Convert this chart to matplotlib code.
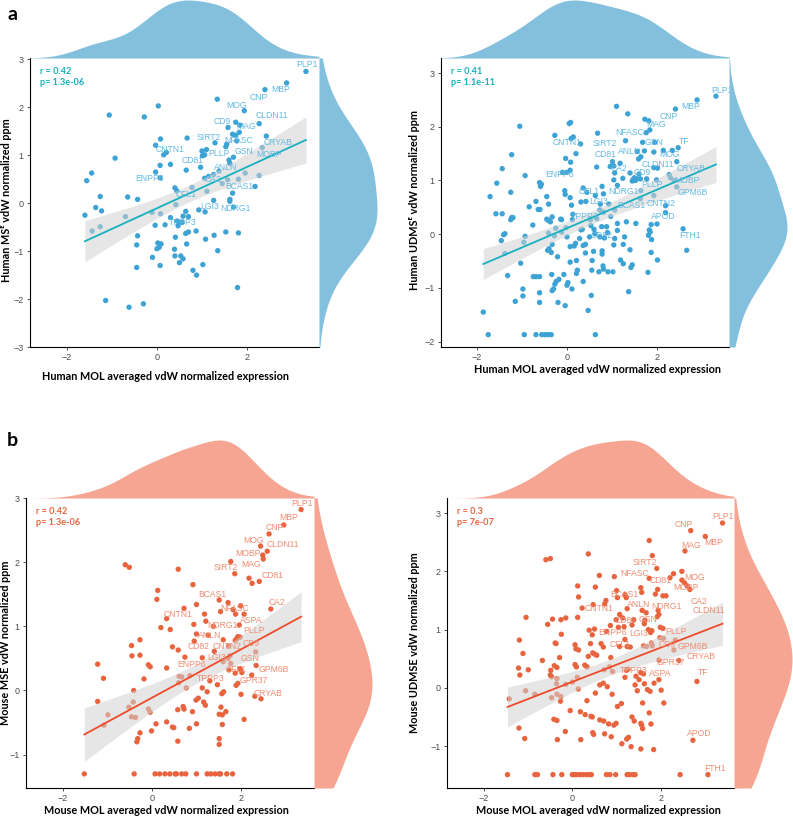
import numpy as np
import matplotlib
matplotlib.use("Agg")
import matplotlib.pyplot as plt

W, H = 793, 816

# values (x = MOL averaged expression, y = normalized ppm)
human_mse = [
    (3.31, 2.75), (2.88, 2.51), (2.40, 2.37), (1.34, 2.17), (0.03, 2.03), (1.94, 1.93), (-1.06, 1.84), (-0.28, 1.80),
    (2.27, 1.66), (1.75, 1.69), (1.84, 1.63), (1.58, 1.58), (1.83, 1.48), (1.68, 1.44), (1.75, 1.42), (2.43, 1.40),
    (1.77, 1.30), (1.29, 1.26), (1.55, 1.23), (1.53, 1.18), (0.08, 1.34), (0.67, 1.36), (-0.03, 1.21), (0.21, 1.06),
    (0.15, 1.01), (1.00, 1.09), (1.10, 1.12), (1.01, 0.99), (1.06, 1.01), (1.60, 0.90), (1.70, 0.96), (1.62, 0.83),
    (-0.93, 0.94), (0.07, 0.79), (0.30, 0.81), (0.65, 0.69), (0.97, 0.75), (-0.03, 0.65), (0.07, 0.53), (-1.45, 0.63),
    (-1.56, 0.47), (1.38, 0.67), (1.26, 0.60), (1.15, 0.56), (1.06, 0.52), (1.96, 0.63), (2.27, 0.58), (2.34, 1.16),
    (1.57, 0.49), (1.45, 0.41), (1.81, 0.50), (2.18, 0.35), (1.68, 0.21), (1.62, 0.08), (1.62, 0.04), (1.70, -0.08),
    (1.26, 0.06), (1.11, 0.25), (0.78, 0.33), (0.40, 0.32), (0.44, 0.26), (0.42, -0.03), (-0.43, 0.08), (-0.65, 0.13),
    (-1.26, 0.14), (-1.36, -0.09), (-1.23, -0.16), (-1.60, -0.25), (-0.70, -0.28), (-1.26, -0.49), (-1.44, -0.58),
    (-0.11, -0.19), (0.08, -0.22), (0.93, -0.14), (1.07, -0.18), (0.64, -0.17), (0.58, -0.27), (0.70, -0.28),
    (0.30, -0.30), (0.45, -0.37), (0.50, -0.41), (0.56, -0.40), (0.18, -0.45), (-0.04, -0.46), (0.47, -0.47),
    (0.87, -0.58), (0.70, -0.60), (0.64, -0.63), (1.27, -0.67), (1.53, -0.60), (1.81, -0.62), (-0.43, -0.68),
    (-0.45, -0.87), (0.41, -0.71), (0.66, -0.85), (1.08, -0.75), (0.02, -0.83), (0.09, -0.85), (0.05, -0.92),
    (0.00, -0.95), (0.39, -0.96), (1.35, -0.99), (-0.10, -1.13), (0.40, -1.10), (0.53, -1.10), (0.58, -1.16),
    (0.50, -1.24), (-0.45, -1.34), (0.07, -1.30), (1.02, -1.28), (0.80, -1.40), (0.88, -1.50), (1.79, -1.76),
    (-1.14, -2.03), (-0.62, -2.17), (-0.30, -2.10),
]

human_udmse = [
    (3.31, 2.57), (2.89, 2.50), (2.41, 2.33), (1.10, 2.38), (1.35, 2.24), (1.73, 2.14), (1.82, 2.11), (1.84, 1.94),
    (1.76, 1.89), (0.05, 2.06), (0.08, 2.08), (-1.05, 2.01), (0.68, 1.88), (-0.27, 1.84), (0.09, 1.78), (0.14, 1.81),
    (0.30, 1.68), (1.30, 1.74), (1.68, 1.71), (1.95, 1.71), (2.47, 1.61), (2.34, 1.56), (2.14, 1.56), (1.93, 1.53),
    (1.72, 1.55), (1.56, 1.54), (-1.23, 1.48), (0.20, 1.50), (1.59, 1.40), (1.64, 1.44), (2.44, 1.35), (2.01, 1.23),
    (1.93, 1.24), (-0.03, 1.41), (0.08, 1.34), (-0.01, 1.15), (-0.10, 1.15), (0.07, 1.19), (-1.44, 1.22), (-0.93, 1.09),
    (-1.56, 0.95), (-0.61, 0.96), (-0.59, 0.89), (-1.25, 0.78), (-1.71, 0.70), (0.66, 1.25), (1.01, 1.35), (1.04, 1.27),
    (1.18, 1.32), (0.96, 1.26), (1.06, 1.14), (1.04, 1.01), (1.24, 1.04), (1.40, 1.14), (1.47, 1.02), (1.50, 1.05),
    (1.52, 1.00), (1.55, 1.03), (1.45, 0.99), (1.60, 1.12), (1.63, 1.03), (1.77, 1.03), (1.99, 1.01), (2.27, 1.11),
    (2.30, 1.05), (2.38, 1.00), (2.44, 0.88), (1.12, 0.91), (0.78, 0.89), (0.36, 0.86), (-0.05, 0.81), (-0.04, 0.74),
    (0.07, 0.68), (-0.45, 0.70), (-0.41, 0.56), (-0.69, 0.61), (-0.84, 0.51), (-0.64, 0.46), (-1.58, 0.38),
    (-1.44, 0.38), (-1.23, 0.31), (-1.25, 0.27), (-0.76, 0.17), (-1.38, 0.01), (-1.41, -0.01), (-1.46, -0.12),
    (-0.93, -0.04), (-0.96, -0.15), (-1.38, -0.36), (-1.32, -0.77), (-1.03, -0.54), (-0.33, 0.32), (-0.12, 0.27),
    (-0.37, 0.23), (-0.25, 0.11), (-0.41, 0.02), (-0.33, -0.19), (-0.43, -0.30), (-0.40, -0.27), (-0.35, -0.34),
    (-0.21, -0.42), (-0.34, -0.75), (-0.75, -0.79), (-0.69, -0.79), (-0.61, -0.79), (-0.98, -1.02), (-0.98, -1.15),
    (-1.15, -1.25), (-0.61, -1.09), (-0.61, -1.27), (-0.27, -0.93), (-0.24, -0.88), (-0.18, -0.84), (-0.33, -1.05),
    (-0.30, -1.02), (-0.04, -1.33), (-0.20, -1.27), (0.11, -1.02), (0.00, -0.95), (0.02, -0.90), (-0.07, -0.75),
    (-1.86, -1.45), (-1.75, -1.87), (-0.95, -1.87), (-0.69, -1.87), (-0.56, -1.87), (-0.49, -1.87), (-0.42, -1.87),
    (-0.35, -1.87), (0.63, -1.87), (0.47, -1.42), (0.54, -1.14), (1.37, -1.07), (1.80, -0.71), (2.01, -0.48),
    (1.42, -0.62), (1.45, -0.57), (1.19, -0.48), (1.25, -0.55), (1.02, -0.70), (0.91, -0.70), (0.80, -0.59),
    (0.81, -0.65), (0.71, -0.70), (0.55, -0.67), (0.56, -0.49), (0.21, -0.49), (0.07, -0.52), (0.23, -0.67),
    (0.21, -0.73), (0.36, -0.88), (0.41, -0.35), (0.59, -0.32), (0.78, -0.31), (0.78, -0.37), (0.36, -0.21),
    (0.41, -0.19), (1.04, -0.20), (1.25, -0.19), (1.40, -0.29), (1.87, -0.34), (1.88, -0.10), (1.85, 0.04),
    (1.83, 0.08), (1.81, -0.02), (1.87, 0.18), (1.53, 0.20), (2.00, 0.19), (2.19, 0.40), (2.19, 0.53), (2.58, 0.10),
    (2.66, -0.30), (1.93, 0.72), (1.64, 0.81), (1.63, 0.66), (1.12, 0.20), (1.32, 0.23), (0.97, 0.33), (1.06, 0.45),
    (0.73, 0.45), (0.74, 0.56), (0.93, 0.56), (0.81, 0.41), (0.66, 0.29), (0.52, 0.27), (0.53, 0.16), (0.50, -0.05),
    (0.62, 0.01), (0.73, -0.05), (0.83, -0.07), (0.88, 0.14), (0.77, 0.14), (0.90, 0.03), (1.06, -0.08), (1.12, 0.07),
    (1.28, -0.05), (0.34, 0.09), (0.28, -0.08), (0.19, -0.17), (0.16, -0.22), (0.07, -0.23), (0.00, -0.05),
    (-0.02, 0.12), (-0.28, -0.03), (0.31, 0.60), (0.10, 0.54), (0.13, 0.37), (0.12, 0.27), (0.31, 0.08), (0.60, 0.09),
    (0.42, 0.61), (0.44, 0.78), (0.63, 0.72), (0.81, 0.75), (-0.14, 0.28), (-0.45, 0.28), (-0.12, 0.04), (-0.57, 0.93),
    (-0.60, 0.46), (-0.42, 0.26), (-1.20, 0.31),
]

mouse_mse = [
    (3.35, 2.82), (2.96, 2.58), (2.63, 2.44), (2.44, 2.25), (2.59, 2.17), (2.49, 2.11), (2.50, 2.05), (1.77, 2.01),
    (1.86, 1.82), (2.18, 1.75), (2.25, 1.67), (2.41, 1.70), (-0.60, 1.96), (-0.51, 1.92), (0.59, 1.89), (0.92, 1.65),
    (0.13, 1.56), (0.11, 1.42), (1.51, 1.41), (1.71, 1.37), (1.99, 1.32), (1.00, 1.34), (0.72, 1.28), (2.67, 1.27),
    (1.54, 1.23), (1.82, 1.26), (1.88, 1.19), (1.18, 1.19), (2.07, 1.19), (1.21, 1.08), (0.33, 1.12), (1.96, 1.02),
    (0.94, 1.03), (1.38, 1.00), (0.20, 0.98), (0.41, 0.95), (1.00, 0.88), (1.26, 0.86), (1.90, 0.80), (1.93, 0.84),
    (1.87, 0.78), (1.92, 0.82), (1.98, 0.83), (1.60, 0.79), (0.95, 0.77), (-0.46, 0.70), (-0.27, 0.79), (0.46, 0.68),
    (0.59, 0.63), (1.72, 0.69), (1.40, 0.61), (2.33, 0.60), (-0.45, 0.54), (-0.27, 0.55), (0.74, 0.52), (1.13, 0.51),
    (1.75, 0.54), (1.71, 0.50), (-1.22, 0.41), (-0.08, 0.40), (-0.04, 0.37), (0.33, 0.35), (1.60, 0.45), (1.77, 0.42),
    (1.98, 0.34), (2.34, 0.39), (-1.09, 0.19), (-0.18, 0.18), (0.61, 0.22), (0.67, 0.21), (0.85, 0.23), (0.60, 0.12),
    (0.77, 0.04), (1.30, 0.15), (1.13, 0.04), (1.24, -0.02), (1.47, 0.09), (1.57, -0.05), (1.61, -0.02), (1.73, 0.32),
    (1.87, 0.27), (2.02, 0.28), (2.24, 0.24), (1.89, 0.08), (1.93, 0.11), (2.00, -0.06), (2.31, -0.09), (2.45, -0.13),
    (-1.22, -0.17), (-0.41, 0.00), (-0.42, -0.18), (-0.52, -0.26), (-0.99, -0.38), (-1.08, -0.54), (-0.46, -0.41),
    (-0.37, -0.42), (-0.08, -0.29), (-0.04, -0.34), (0.99, -0.15), (1.04, -0.12), (1.16, -0.18), (1.20, -0.23),
    (0.58, -0.30), (0.70, -0.25), (0.72, -0.29), (0.91, -0.33), (1.55, -0.26), (1.66, -0.33), (1.51, -0.37),
    (1.58, -0.38), (2.07, -0.45), (0.09, -0.52), (0.33, -0.49), (0.46, -0.57), (0.49, -0.58), (0.84, -0.59),
    (1.00, -0.52), (1.58, -0.53), (-0.01, -0.63), (-0.27, -0.66), (-0.32, -0.75), (-0.34, -0.80), (0.58, -0.79),
    (1.51, -0.75), (1.51, -0.84),
    (-1.52, -1.30), (-0.40, -1.30), (0.07, -1.30), (0.17, -1.30), (0.29, -1.30), (0.40, -1.30), (0.52, -1.30),
    (0.55, -1.30), (0.67, -1.30), (0.76, -1.30), (1.00, -1.30), (1.24, -1.30), (1.32, -1.30), (1.42, -1.30),
    (1.51, -1.30), (1.54, -1.30), (1.68, -1.30), (1.81, -1.30),
]

mouse_udmse = [
    (3.40, 2.83), (2.68, 2.70), (3.01, 2.60), (1.74, 2.53), (2.55, 2.35), (0.36, 2.30), (1.81, 2.27), (-0.60, 2.20),
    (-0.50, 2.22), (1.91, 2.05), (2.48, 2.00), (2.29, 1.96), (0.61, 1.93), (0.95, 1.91), (2.21, 1.89), (1.74, 1.88),
    (2.48, 1.85), (2.54, 1.80), (2.60, 1.75), (2.66, 1.69), (0.12, 1.75), (0.52, 1.73), (1.55, 1.72), (1.93, 1.69),
    (1.00, 1.67), (1.57, 1.64), (1.88, 1.61), (2.05, 1.58), (2.12, 1.58), (0.14, 1.56), (1.02, 1.55), (1.19, 1.60),
    (1.22, 1.55), (0.76, 1.50), (0.73, 1.44), (0.47, 1.43), (0.22, 1.37), (1.24, 1.36), (1.58, 1.33), (1.67, 1.29),
    (1.94, 1.33), (1.96, 1.26), (1.92, 1.22), (-1.05, 1.21), (-0.45, 1.18), (-0.26, 1.17), (-0.15, 1.20),
    (-0.56, 1.09), (0.12, 1.21), (0.99, 1.17), (1.07, 1.26), (1.14, 1.20), (0.86, 1.07), (1.04, 1.04), (1.17, 1.05),
    (1.39, 1.17), (1.35, 1.08), (1.64, 1.16), (1.63, 1.10), (1.72, 1.00), (1.80, 0.98), (1.77, 0.95), (1.99, 1.04),
    (2.05, 1.02), (1.98, 0.86), (2.06, 0.85), (0.38, 0.99), (0.50, 1.01), (-0.25, 0.92), (0.45, 0.91), (0.77, 0.97),
    (-1.20, 0.82), (-0.39, 0.77), (-0.37, 0.76), (0.06, 0.74), (0.08, 0.67), (0.41, 0.76), (0.65, 0.76), (0.70, 0.70),
    (1.07, 0.71), (1.19, 0.83), (1.24, 0.71), (1.31, 0.70), (1.61, 0.72), (1.68, 0.71), (1.79, 0.77), (1.81, 0.72),
    (-1.12, 0.59), (0.50, 0.58), (0.46, 0.60), (0.55, 0.56), (0.36, 0.54), (0.14, 0.65), (-0.29, 0.52), (0.87, 0.52),
    (-0.68, 0.47), (-0.41, 0.38), (-0.35, 0.35), (0.06, 0.40), (0.09, 0.36), (0.28, 0.39), (0.33, 0.36), (0.91, 0.28),
    (0.72, 0.31), (0.84, 0.36), (1.22, 0.30), (1.26, 0.32), (1.55, 0.26), (1.61, 0.24), (1.44, 0.20), (1.51, 0.14),
    (1.96, 0.14), (1.96, 0.48), (2.41, 0.47), (2.30, 0.65), (2.33, 0.82), (2.82, 0.11), (-1.22, 0.34), (-1.19, 0.22),
    (-1.00, 0.31), (-0.49, 0.30), (-0.50, 0.22), (-0.47, 0.19), (-0.35, 0.16), (-0.36, 0.07), (-0.15, 0.06),
    (0.00, 0.10), (0.11, 0.18), (0.13, -0.02), (-1.06, -0.05), (-0.85, -0.11), (-1.43, -0.19), (-0.35, -0.11),
    (-0.47, -0.17), (-0.26, -0.15), (-0.27, -0.23), (-0.05, -0.39), (0.18, -0.41), (0.29, -0.46), (0.42, -0.49),
    (0.45, -0.50), (0.62, -0.55), (0.71, -0.57), (0.33, -0.22), (0.52, -0.09), (0.62, 0.05), (0.70, 0.08),
    (0.79, 0.02), (0.90, -0.11), (1.02, -0.32), (1.11, -0.27), (1.19, 0.18), (1.42, 0.05), (1.47, -0.05),
    (1.63, 0.07), (1.70, -0.03), (1.76, -0.06), (1.85, 0.08), (1.59, -0.26), (2.01, -0.04), (2.07, -0.26),
    (1.74, -0.43), (-0.42, -0.54), (-0.35, -0.56), (-1.21, -0.69), (-1.08, -0.87), (-0.34, -0.89), (-0.16, -0.75),
    (0.19, -0.89), (0.46, -0.77), (0.48, -0.80), (0.73, -0.79), (0.82, -0.62), (0.88, -0.84), (0.94, -0.64),
    (0.99, -0.61), (1.23, -0.88), (1.27, -0.85), (1.12, -0.96), (1.33, -1.01), (1.55, -1.05), (1.59, -0.70),
    (1.35, -0.50), (1.40, -0.57), (1.55, -0.61), (1.57, -0.64), (1.78, -0.62), (1.84, -1.06), (2.73, -0.90),
    (-1.47, -1.49), (-0.85, -1.49), (-0.79, -1.49), (-0.44, -1.49), (-0.24, -1.49), (0.00, -1.49), (0.04, -1.49),
    (0.09, -1.49), (0.17, -1.49), (0.24, -1.49), (0.32, -1.49), (0.39, -1.49), (0.43, -1.49), (0.77, -1.49),
    (0.85, -1.49), (0.98, -1.49), (1.24, -1.49), (1.30, -1.49), (1.37, -1.49), (1.42, -1.49), (2.44, -1.49),
    (3.07, -1.49),
]

# gene labels as placed in the figure (name, x, y)
human_mse_genes = [
    ("PLP1", 3.33, 2.89), ("MBP", 2.75, 2.38), ("CNP", 2.27, 2.21), ("MOG", 1.76, 2.04), ("CLDN11", 2.55, 1.83),
    ("CD9", 1.46, 1.71), ("MAG", 1.98, 1.61), ("SIRT2", 1.16, 1.38), ("NFASC", 1.82, 1.30), ("CRYAB", 2.70, 1.26),
    ("CNTN1", 0.29, 1.13), ("PLLP", 1.38, 1.04), ("GSN", 1.94, 1.07), ("MOBP", 2.49, 1.02), ("CD81", 0.79, 0.90),
    ("ANLN", 1.53, 0.74), ("ENPP6", -0.17, 0.51), ("CA2", 1.25, 0.49), ("BCAS1", 1.83, 0.34), ("CFL1", 0.64, 0.18),
    ("LGI3", 1.16, -0.06), ("NDRG1", 1.75, -0.10), ("TPPP3", 0.57, -0.41),
]
human_udmse_genes = [
    ("PLP1", 3.44, 2.68), ("MBP", 2.75, 2.38), ("CNP", 2.27, 2.20), ("MAG", 1.99, 2.05), ("NFASC", 1.40, 1.89),
    ("SIRT2", 0.83, 1.69), ("CNTN1", 0.00, 1.70), ("GSN", 1.94, 1.70), ("TF", 2.61, 1.72), ("ANLN", 1.40, 1.54),
    ("MOG", 2.27, 1.49), ("CD81", 0.85, 1.48), ("CLDN11", 2.03, 1.30), ("CRYAB", 2.75, 1.23), ("CA2", 1.16, 1.23),
    ("ENPP6", -0.17, 1.11), ("CD9", 1.68, 1.14), ("MOBP", 2.67, 1.00), ("PLLP", 1.90, 0.93), ("CFL1", 0.50, 0.80),
    ("NDRG1", 1.25, 0.80), ("GPM6B", 2.79, 0.77), ("LGI3", 0.70, 0.60), ("BCAS1", 1.42, 0.54), ("CNTN2", 2.10, 0.57),
    ("TPPP3", 0.40, 0.33), ("APOD", 2.14, 0.33), ("FTH1", 2.73, -0.03), ("CD82", 0.77, -0.02),
]
mouse_mse_genes = [
    ("PLP1", 3.38, 2.92), ("MBP", 3.08, 2.70), ("CNP", 2.76, 2.54), ("MOG", 2.29, 2.34), ("CLDN11", 2.95, 2.27),
    ("MOBP", 2.16, 2.14), ("SIRT2", 1.67, 1.92), ("MAG", 2.23, 1.96), ("CD81", 2.70, 1.79), ("BCAS1", 1.36, 1.50),
    ("CA2", 2.81, 1.37), ("NFASC", 1.85, 1.27), ("CNTN1", 0.58, 1.18), ("ASPA", 2.24, 1.09), ("NDRG1", 1.58, 1.02),
    ("PLLP", 2.29, 0.94), ("ANLN", 1.30, 0.85), ("CD82", 1.04, 0.68), ("CNTN2", 1.68, 0.68), ("CD9", 2.24, 0.73),
    ("LGI3", 1.45, 0.51), ("GSN", 2.20, 0.50), ("ENPP6", 0.88, 0.41), ("CFL1", 1.89, 0.33), ("GPM6B", 2.73, 0.33),
    ("TPPP3", 1.31, 0.19), ("GPR37", 2.29, 0.16), ("CRYAB", 2.61, -0.04),
]
mouse_udmse_genes = [
    ("PLP1", 3.40, 2.95), ("CNP", 2.53, 2.81), ("MBP", 3.20, 2.49), ("MAG", 2.68, 2.45), ("SIRT2", 1.65, 2.15),
    ("NFASC", 1.42, 1.97), ("MOG", 2.77, 1.90), ("CD81", 2.00, 1.85), ("MOBP", 2.57, 1.72), ("BCAS1", 1.18, 1.61),
    ("CA2", 2.86, 1.49), ("ANLN", 1.50, 1.43), ("NDRG1", 2.13, 1.39), ("CNTN1", 0.61, 1.36), ("CLDN11", 3.08, 1.32),
    ("CD82", 1.20, 1.16), ("GSN", 1.72, 1.17), ("ENPP6", 0.90, 0.95), ("LGI3", 1.49, 0.93), ("PLLP", 2.34, 0.96),
    ("CFL1", 1.09, 0.74), ("CD9", 2.14, 0.75), ("GPM6B", 2.73, 0.71), ("CRYAB", 2.92, 0.53), ("GPR37", 2.23, 0.44),
    ("TPPP3", 1.38, 0.30), ("ASPA", 1.98, 0.24), ("TF", 2.95, 0.26), ("APOD", 2.87, -0.79), ("FTH1", 3.23, -1.39),
]

stats = {"hm": ("0.42", "1.3e-06"), "hu": ("0.41", "1.1e-11"), "mm": ("0.42", "1.3e-06"), "mu": ("0.3", "7e-07")}

blue = dict(pt="#3DA3D5", lab="#62B9E2", line="#17B0BE", dens="#82C0DD", stat="#17B0BE")
orange = dict(pt="#E8643F", lab="#F08C72", line="#EE4B2B", dens="#F6A592", stat="#E8643F")

LABEL_FONT = ["Lato", "DejaVu Sans"]
ARIAL = ["Liberation Sans", "DejaVu Sans"]


def rect(x0, y0, x1, y1):
    return [x0 / W, 1 - y1 / H, (x1 - x0) / W, (y1 - y0) / H]


def kde(v, grid, adjust=1.4):
    v = np.asarray(v)
    n = len(v)
    q75, q25 = np.percentile(v, [75, 25])
    bw = adjust * 0.9 * min(v.std(ddof=1), (q75 - q25) / 1.34) * n ** -0.2
    z = (grid[:, None] - v[None, :]) / bw
    return np.exp(-0.5 * z ** 2).sum(1) / (n * bw * np.sqrt(2 * np.pi))


def panel(fig, box, pts, genes, st, cols, xlim, ylim, yticks, xlab, ylab, xlab_pos, ylab_pos, marg):
    x, y = np.array(pts).T
    x0, y0, x1, y1 = box
    ax = fig.add_axes(rect(x0, y0, x1, y1))
    ax.scatter(x, y, s=15, color=cols["pt"], edgecolors="none", zorder=2)

    # linear fit with 95% band
    b, a = np.polyfit(x, y, 1)
    n = len(x)
    resid = y - (a + b * x)
    s = np.sqrt((resid ** 2).sum() / (n - 2))
    sxx = ((x - x.mean()) ** 2).sum()
    xs = np.linspace(x.min(), x.max(), 100)
    yh = a + b * xs
    se = s * np.sqrt(1 / n + (xs - x.mean()) ** 2 / sxx)
    ax.fill_between(xs, yh - 1.97 * se, yh + 1.97 * se, color="#D2D2D2", alpha=0.55, lw=0, zorder=3)
    ax.plot(xs, yh, color=cols["line"], lw=1.3, zorder=4)

    for name, gx, gy in genes:
        ax.text(gx, gy, name, fontsize=6.2, color=cols["lab"], ha="center", va="center",
                family=ARIAL, zorder=5)

    ax.set_xlim(*xlim)
    ax.set_ylim(*ylim)
    ax.set_xticks([-2, 0, 2])
    ax.set_yticks(yticks)
    for sp in ["top", "right"]:
        ax.spines[sp].set_visible(False)
    for sp in ["left", "bottom"]:
        ax.spines[sp].set_linewidth(0.8)
    ax.tick_params(length=2.5, width=0.6, colors="#333333", labelsize=6.5, pad=2)
    for t in ax.get_xticklabels() + ax.get_yticklabels():
        t.set_family(ARIAL)
        t.set_color("#4D4D4D")

    ax.text(0.035, 0.955, f"r = {st[0]}", transform=ax.transAxes, fontsize=6.6, fontweight="bold",
            color=cols["stat"], family=LABEL_FONT, va="center")
    ax.text(0.035, 0.915, f"p= {st[1]}", transform=ax.transAxes, fontsize=6.6, fontweight="bold",
            color=cols["stat"], family=LABEL_FONT, va="center")

    fig.text(xlab_pos[0] / W, 1 - xlab_pos[1] / H, xlab, fontsize=7.8, fontweight="bold",
             family=LABEL_FONT, ha="center", va="center")
    fig.text(ylab_pos[0] / W, 1 - ylab_pos[1] / H, ylab, fontsize=7.8, fontweight="bold",
             family=LABEL_FONT, ha="center", va="center", rotation=90)

    # marginal densities
    top = fig.add_axes(rect(x0, y0 - marg, x1, y0))
    gx = np.linspace(xlim[0], xlim[1], 300)
    dx = kde(x, gx)
    top.fill_between(gx, 0, dx, color=cols["dens"], lw=0)
    top.set_xlim(*xlim)
    top.set_ylim(0, dx.max())
    top.axis("off")

    right = fig.add_axes(rect(x1, y0, x1 + marg, y1))
    gy = np.linspace(ylim[0], ylim[1], 300)
    dy = kde(y, gy)
    right.fill_betweenx(gy, 0, dy, color=cols["dens"], lw=0)
    right.set_ylim(*ylim)
    right.set_xlim(0, dy.max())
    right.axis("off")
    return ax


fig = plt.figure(figsize=(W / 100, H / 100), dpi=100)

panel(fig, (30, 58, 319, 347), human_mse, human_mse_genes, stats["hm"], blue,
      (-2.82, 3.6), (-3.0, 3.03), [-3, -2, -1, 0, 1, 2, 3],
      "Human MOL averaged vdW normalized expression", "Human MS\u1d31 vdW normalized ppm",
      (166, 377), (7, 200), 58)
panel(fig, (441, 58, 729, 347), human_udmse, human_udmse_genes, stats["hu"], blue,
      (-2.8, 3.6), (-2.1, 3.28), [-2, -1, 0, 1, 2, 3],
      "Human MOL averaged vdW normalized expression", "Human UDMS\u1d31 vdW normalized ppm",
      (597, 370), (415, 200), 58)
panel(fig, (26, 498, 314, 788), mouse_mse, mouse_mse_genes, stats["mm"], orange,
      (-2.83, 3.64), (-1.52, 3.0), [-1, 0, 1, 2, 3],
      "Mouse MOL averaged vdW normalized expression", "Mouse MSE vdW normalized ppm",
      (166, 810), (6, 643), 58)
panel(fig, (447, 498, 734, 788), mouse_udmse, mouse_udmse_genes, stats["mu"], orange,
      (-2.84, 3.66), (-1.72, 3.26), [-1, 0, 1, 2, 3],
      "Mouse MOL averaged vdW normalized expression", "Mouse UDMSE vdW normalized ppm",
      (598, 810), (415, 643), 58)

fig.text(12 / W, 1 - 15 / H, "a", fontsize=14, fontweight="bold", family=LABEL_FONT, ha="center", va="center")
fig.text(12 / W, 1 - 440 / H, "b", fontsize=14, fontweight="bold", family=LABEL_FONT, ha="center", va="center")

fig.savefig("out.png", dpi=100)
